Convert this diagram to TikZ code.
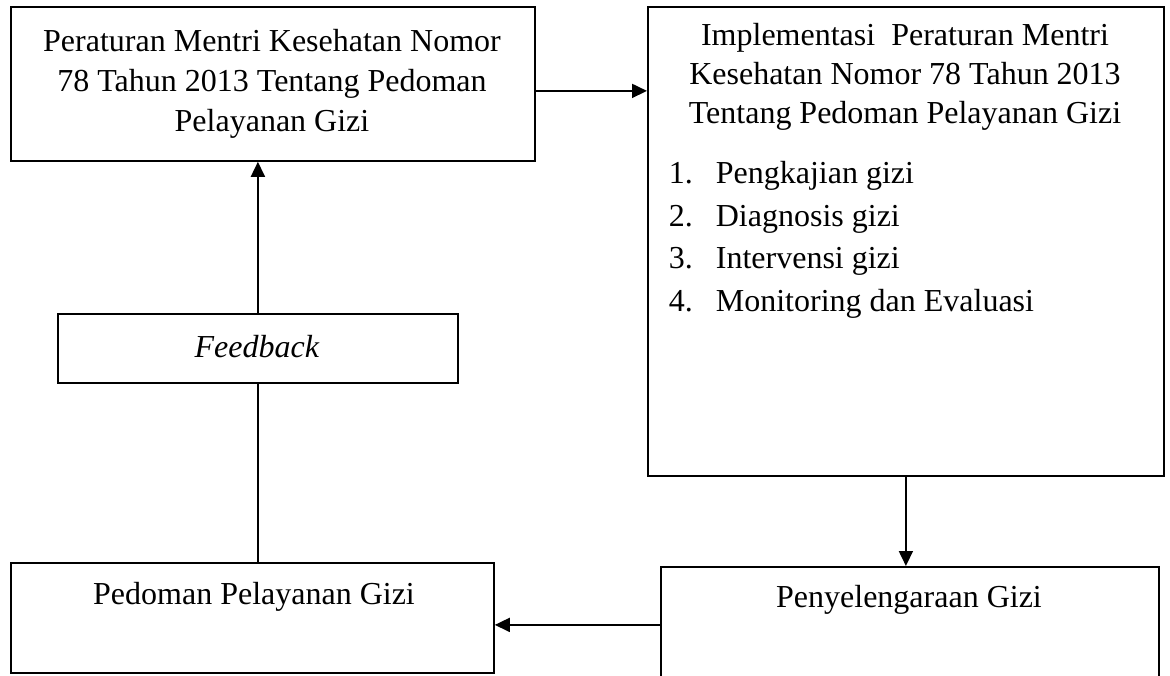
\documentclass[tikz,border=0pt]{standalone}
\usepackage{fontspec}
\setmainfont{Liberation Serif}
\usetikzlibrary{arrows.meta}
\begin{document}
\begin{tikzpicture}[x=1bp,y=-1bp,line width=1.8bp,
  box/.style={draw, anchor=north west, inner sep=0pt},
  txt/.style={font=\fontsize{32bp}{39bp}\selectfont, align=center, inner sep=0pt},
  arr/.style={-{Triangle[length=15bp,width=14bp]}}]
\useasboundingbox (0,0) rectangle (1170,676);
\clip (0,0) rectangle (1170,676);
% boxes
\node[box, minimum width=524bp, minimum height=154bp] (b1) at (10,6) {};
\node[box, minimum width=516bp, minimum height=469bp] (b2) at (647,6) {};
\node[box, minimum width=400bp, minimum height=69bp] (fb) at (57,313) {};
\node[box, minimum width=483bp, minimum height=110bp] (pg) at (10,562) {};
\node[box, minimum width=498bp, minimum height=130bp] (pz) at (660,566) {};
% texts
\node[txt, font=\fontsize{32bp}{40bp}\selectfont] (t1) at (272,84) {Peraturan Mentri Kesehatan Nomor\\78 Tahun 2013 Tentang Pedoman\\Pelayanan Gizi};
\node[txt] (t2) at (905,77) {Implementasi\ \ Peraturan Mentri\\Kesehatan Nomor 78 Tahun 2013\\Tentang Pedoman Pelayanan Gizi};
\node[txt, anchor=west] (lst) at (668,239) {\fontsize{32bp}{42.7bp}\selectfont
  \begin{tabular}{@{}l@{}l@{}}
  \makebox[47bp][l]{1.} & Pengkajian gizi\\
  \makebox[47bp][l]{2.} & Diagnosis gizi\\
  \makebox[47bp][l]{3.} & Intervensi gizi\\
  \makebox[47bp][l]{4.} & Monitoring dan Evaluasi
  \end{tabular}};
\node[txt] (tfb) at (257,347) {\textit{Feedback}};
\node[txt] (tpg) at (254,597) {Pedoman Pelayanan Gizi};
\node[txt] (tpz) at (909,600) {Penyelengaraan Gizi};
% connectors
\draw[arr] ([yshift=-7bp]b1.east) -- ([yshift=-7bp]b1.east -| b2.west);
\draw[arr] (b2.south) -- (b2.south |- pz.north);
\draw[arr] ([yshift=7bp]pz.west) -- ([yshift=7bp]pz.west -| pg.east);
\draw (fb.south |- pg.north) -- (fb.south);
\draw[arr] (fb.north) -- (fb.north |- b1.south);
\end{tikzpicture}
\end{document}
